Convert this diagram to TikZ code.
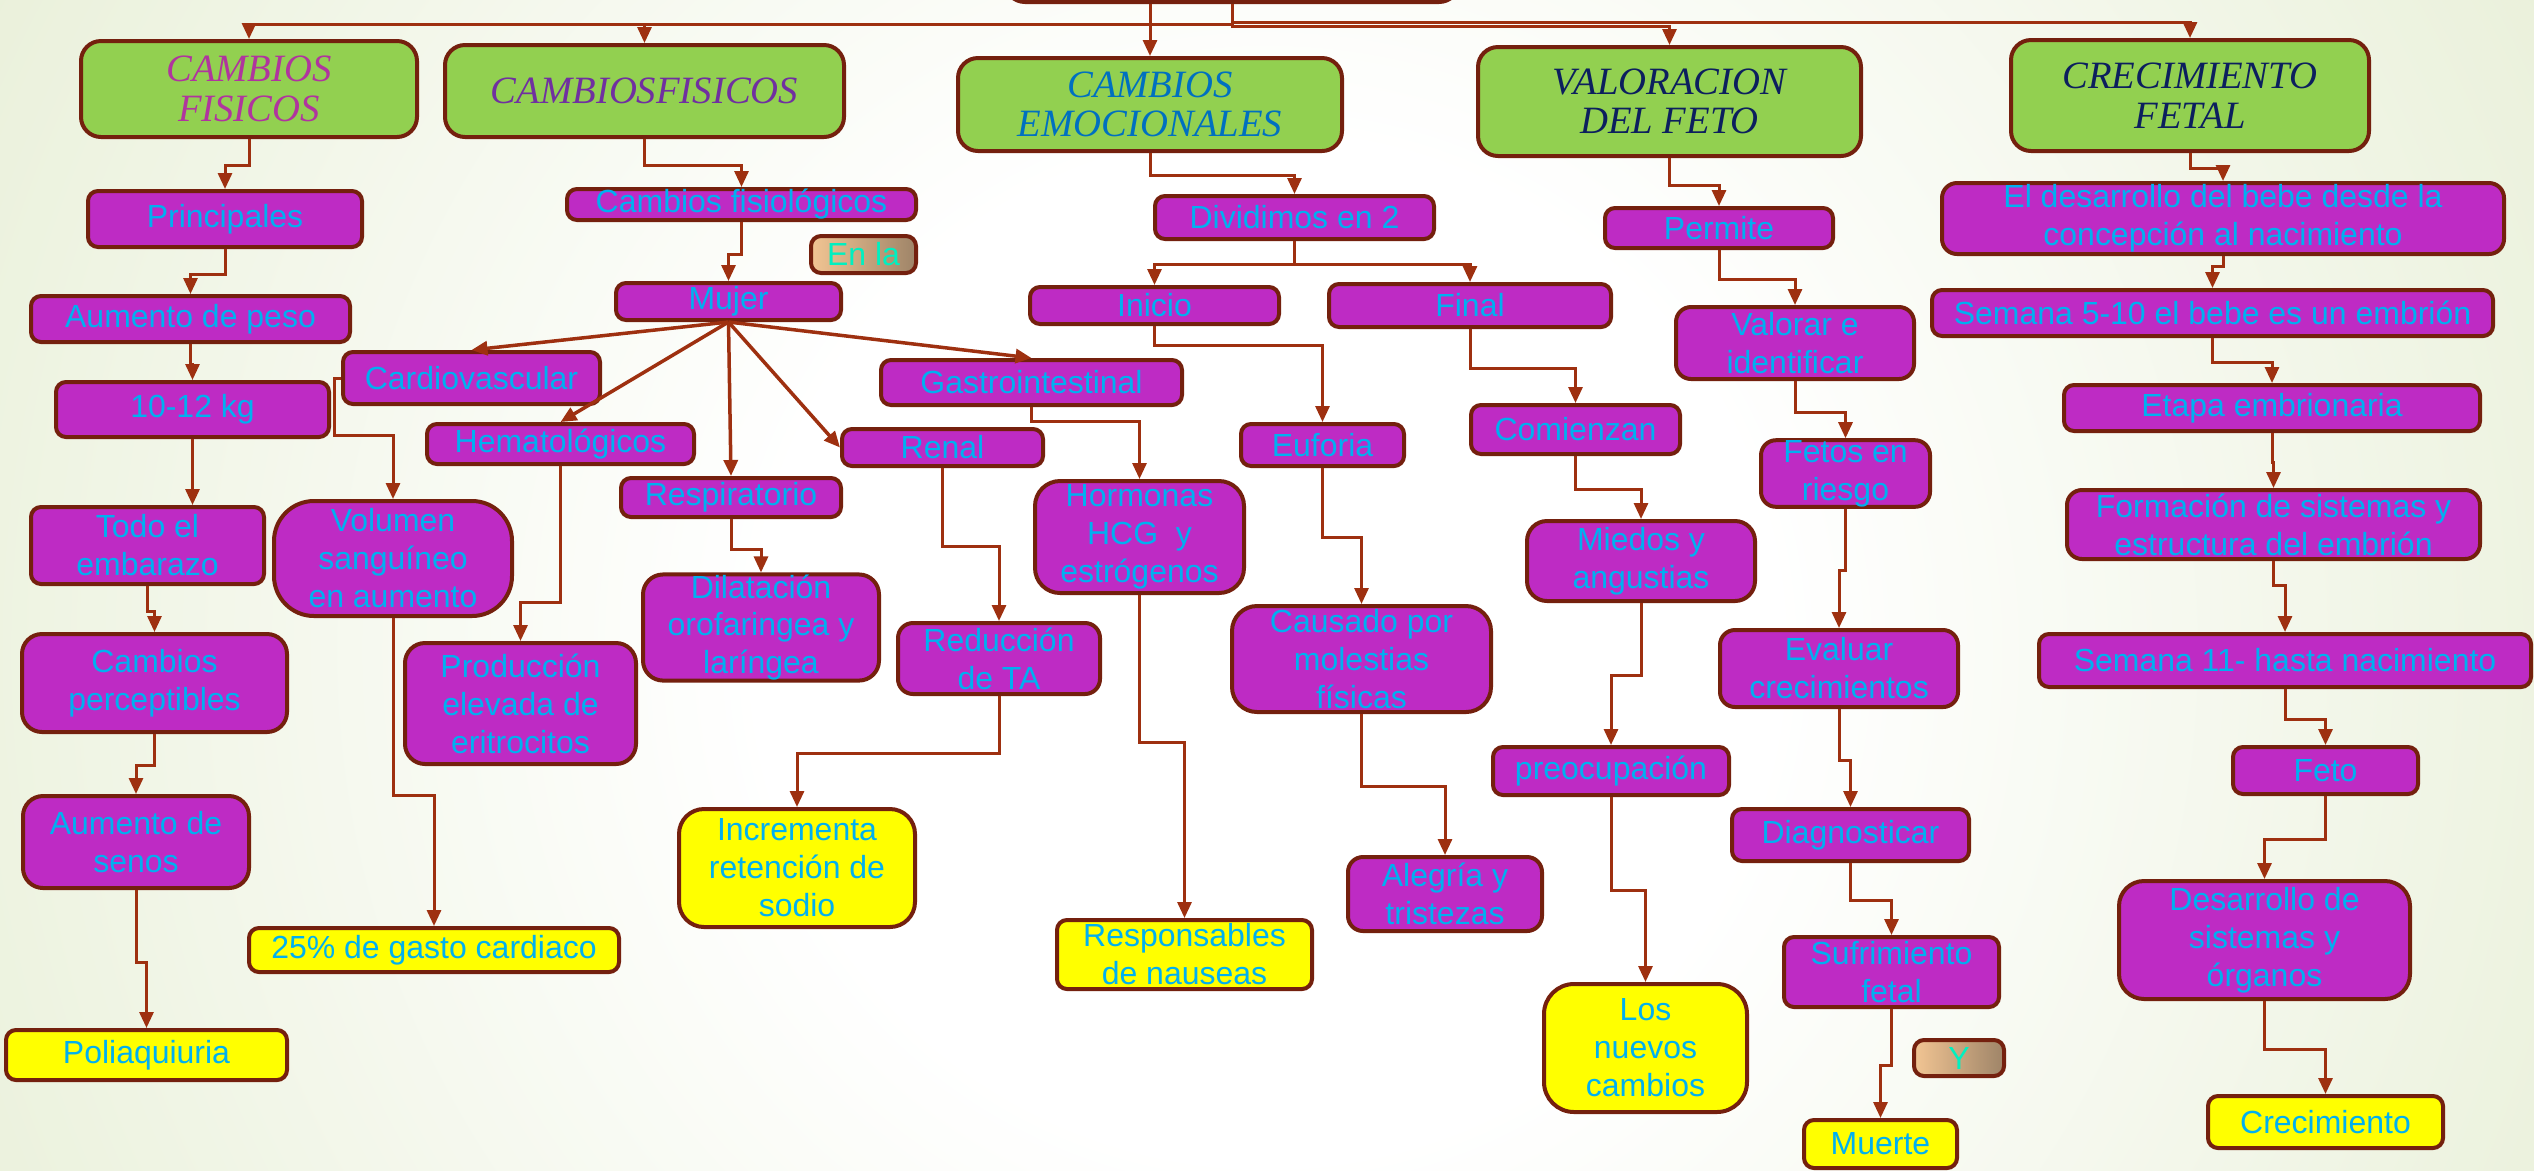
\documentclass[tikz,border=0pt]{standalone}
\usepackage{fontspec}
\setmainfont{Liberation Sans}
\newfontfamily\titserif{Liberation Serif}
\usetikzlibrary{arrows.meta}

\definecolor{brd}{HTML}{74200E}
\definecolor{arrc}{HTML}{9E3010}
\definecolor{hgreen}{HTML}{92D050}
\definecolor{pbfill}{HTML}{BE2BC4}
\definecolor{ylw}{HTML}{FFFF00}
\definecolor{txtblue}{HTML}{00B0F0}
\definecolor{tmag}{HTML}{B0359E}
\definecolor{tpur}{HTML}{7030A0}
\definecolor{tblu}{HTML}{0070C0}
\definecolor{tnavy}{HTML}{0C1F5E}
\definecolor{aqua}{HTML}{00F0C0}
\definecolor{peach}{HTML}{F2C593}
\definecolor{tanosc}{HTML}{9E8468}
\definecolor{bgedge}{HTML}{D6E3B8}
\definecolor{bgedgeb}{HTML}{CFDDAE}

\newcommand{\cajafont}{\fontsize{9.1pt}{10.8pt}\selectfont}
\newcommand{\titfont}{\titserif\itshape\fontsize{11pt}{11.3pt}\selectfont}

\pgfdeclareradialshading{fondo}{\pgfpoint{0bp}{0bp}}{color(0bp)=(white); color(10bp)=(white); color(46bp)=(bgedge); color(72bp)=(bgedgeb)}

\tikzset{
  titulo/.style={draw=brd, line width=0.4mm, fill=hgreen, rounded corners=2mm, align=center, font=\titfont, inner sep=0pt},
  caja/.style={draw=brd, line width=0.4mm, fill=pbfill, rounded corners=1mm, align=center, text=txtblue, font=\cajafont, inner sep=0pt},
  cajaam/.style={caja, fill=ylw},
  enlace/.style={draw=brd, line width=0.4mm, rounded corners=1mm, left color=peach, right color=tanosc, text=aqua, font=\cajafont, inner sep=0pt},
  flecha/.style={draw=arrc, line width=0.3mm, -{Triangle[length=1.6mm,width=1.4mm]}},
}

\begin{document}
\begin{tikzpicture}[x=0.1mm, y=-0.1mm]
\useasboundingbox (0,0) rectangle (2534,1170);
\begin{scope}
  \clip (0,0) rectangle (2534,1170);
  \shade[shading=fondo] (0,-617) rectangle (2534,1917);
\end{scope}

% encabezados
\node[titulo, minimum width=45.4mm, minimum height=6.2mm] (mapa) at (1232,-29) {};
\node[titulo, text=tmag, minimum width=33.6mm, minimum height=9.6mm] (cf1) at (249,89) {CAMBIOS\\FISICOS};
\node[titulo, text=tpur, minimum width=39.9mm, minimum height=9.2mm] (cf2) at (644.5,91) {CAMBIOSFISICOS};
\node[titulo, text=tblu, minimum width=38.4mm, minimum height=9.3mm] (cem) at (1150,104.5) {CAMBIOS\\EMOCIONALES};
\node[titulo, text=tnavy, minimum width=38.3mm, minimum height=10.9mm] (val) at (1669.5,101.5) {VALORACION\\DEL FETO};
\node[titulo, text=tnavy, minimum width=35.8mm, minimum height=11.1mm] (crec) at (2190,95.5) {CRECIMIENTO\\FETAL};

% cambios fisicos
\node[caja, minimum width=27.4mm, minimum height=5.6mm] (prin) at (225,219) {Principales};
\node[caja, minimum width=31.9mm, minimum height=4.6mm] (aum) at (190.5,319) {Aumento de peso};
\node[caja, minimum width=27.3mm, minimum height=5.5mm] (kg) at (192.5,409.5) {10-12 kg};
\node[caja, minimum width=23.3mm, minimum height=7.7mm] (todo) at (147.5,545.5) {Todo el\\embarazo};
\node[caja, minimum width=26.5mm, minimum height=9.8mm, rounded corners=2mm] (camper) at (154.5,683) {Cambios\\perceptibles};
\node[caja, minimum width=22.6mm, minimum height=9.2mm, rounded corners=2mm] (senos) at (136,842) {Aumento de\\senos};
\node[cajaam, minimum width=28.1mm, minimum height=5.0mm] (polia) at (146.5,1055) {Poliaquiuria};

\node[caja, minimum width=34.9mm, minimum height=3.1mm] (cfis) at (741.5,204.5) {Cambios fisiológicos};
\node[enlace, minimum width=10.5mm, minimum height=3.7mm] (enla) at (863.5,254.5) {En la};
\node[caja, minimum width=22.5mm, minimum height=3.7mm] (mujer) at (728.5,301.5) {Mujer};
\node[caja, minimum width=25.7mm, minimum height=5.2mm] (cardio) at (471.5,378) {Cardiovascular};
\node[caja, minimum width=26.7mm, minimum height=4.0mm] (hemato) at (560.5,444) {Hematológicos};
\node[caja, minimum width=22.0mm, minimum height=3.9mm] (resp) at (731,497.5) {Respiratorio};
\node[caja, minimum width=20.1mm, minimum height=3.7mm] (renal) at (942.5,447.5) {Renal};
\node[caja, minimum width=30.1mm, minimum height=4.5mm] (gastro) at (1031.5,382.5) {Gastrointestinal};
\node[caja, minimum width=23.8mm, minimum height=11.5mm, rounded corners=4mm] (vol) at (393,558.5) {Volumen\\sanguíneo\\en aumento};
\node[cajaam, minimum width=37.0mm, minimum height=4.4mm] (gasto) at (434,950) {25\% de gasto cardiaco};
\node[caja, minimum width=23.1mm, minimum height=12.1mm, rounded corners=2mm] (prod) at (520.5,703.5) {Producción\\elevada de\\eritrocitos};
\node[caja, minimum width=23.6mm, minimum height=9.9mm, rounded corners=2mm] (dil) at (761,627.5) {Dilatación\\orofaringea y\\laríngea};
\node[caja, minimum width=20.2mm, minimum height=7.1mm, rounded corners=1.5mm] (red) at (999,658.5) {Reducción\\de TA};
\node[cajaam, minimum width=23.6mm, minimum height=11.8mm, rounded corners=2.5mm] (incr) at (797,868) {Incrementa\\retención de\\sodio};
\node[caja, minimum width=20.9mm, minimum height=11.2mm, rounded corners=2.5mm] (horm) at (1139.5,537) {Hormonas\\HCG\ \ y\\estrógenos};
\node[cajaam, minimum width=25.5mm, minimum height=6.9mm] (respo) at (1184.5,954.5) {Responsables\\de nauseas};

% cambios emocionales
\node[caja, minimum width=27.9mm, minimum height=4.3mm] (div) at (1294.5,217.5) {Dividimos en 2};
\node[caja, minimum width=24.9mm, minimum height=3.7mm] (inicio) at (1154.5,305.5) {Inicio};
\node[caja, minimum width=28.2mm, minimum height=4.3mm] (final) at (1470,305.5) {Final};
\node[caja, minimum width=16.3mm, minimum height=4.2mm] (euf) at (1322.5,445) {Euforia};
\node[caja, minimum width=25.9mm, minimum height=10.6mm, rounded corners=2.5mm] (caus) at (1361.5,659) {Causado por\\molestias\\físicas};
\node[caja, minimum width=19.4mm, minimum height=7.4mm, rounded corners=1.5mm] (aleg) at (1445,894) {Alegría y\\tristezas};
\node[caja, minimum width=20.9mm, minimum height=4.9mm] (comi) at (1575.5,429.5) {Comienzan};
\node[caja, minimum width=22.8mm, minimum height=8.0mm, rounded corners=2mm] (mied) at (1641,561) {Miedos y\\angustias};
\node[caja, minimum width=23.6mm, minimum height=4.8mm] (preo) at (1611,771) {preocupación};
\node[cajaam, minimum width=20.3mm, minimum height=12.8mm, rounded corners=3mm] (nuev) at (1645.5,1048) {Los\\nuevos\\cambios};

% valoracion del feto
\node[caja, minimum width=22.8mm, minimum height=4.0mm] (perm) at (1719,228) {Permite};
\node[caja, minimum width=23.8mm, minimum height=7.2mm, rounded corners=1.5mm] (valo) at (1795,343) {Valorar e\\identificar};
\node[caja, minimum width=16.9mm, minimum height=6.3mm, rounded corners=1.5mm] (fetos) at (1845.5,473.5) {Fetos en\\riesgo};
\node[caja, minimum width=23.8mm, minimum height=7.7mm, rounded corners=1.5mm] (eval) at (1839,668.5) {Evaluar\\crecimientos};
\node[caja, minimum width=23.7mm, minimum height=5.2mm] (diag) at (1850.5,835) {Diagnosticar};
\node[caja, minimum width=21.5mm, minimum height=7.0mm] (sufr) at (1891.5,972) {Sufrimiento\\fetal};
\node[enlace, minimum width=9.0mm, minimum height=3.6mm] (ylet) at (1959,1058) {Y};
\node[cajaam, minimum width=15.3mm, minimum height=4.8mm] (muerte) at (1880.5,1144) {Muerte};

% crecimiento fetal
\node[caja, minimum width=56.2mm, minimum height=7.1mm, rounded corners=1.5mm] (desar) at (2223,218.5) {El desarrollo del bebe desde la\\concepción al nacimiento};
\node[caja, minimum width=56.1mm, minimum height=4.6mm] (sem5) at (2212.5,313) {Semana 5-10 el bebe es un embrión};
\node[caja, minimum width=41.6mm, minimum height=4.6mm] (etapa) at (2272,408) {Etapa embrionaria};
\node[caja, minimum width=41.3mm, minimum height=6.9mm, rounded corners=1.5mm] (form) at (2273.5,524.5) {Formación de sistemas y\\estructura del embrión};
\node[caja, minimum width=49.2mm, minimum height=5.3mm] (sem11) at (2285,660.5) {Semana 11- hasta nacimiento};
\node[caja, minimum width=18.5mm, minimum height=4.7mm] (feto) at (2325.5,770.5) {Feto};
\node[caja, minimum width=29.1mm, minimum height=11.8mm, rounded corners=2.5mm] (dsis) at (2264.5,940) {Desarrollo de\\sistemas y\\órganos};
\node[cajaam, minimum width=23.5mm, minimum height=5.2mm] (crecim) at (2325.5,1122) {Crecimiento};

% conectores
\draw[flecha] (mapa.south) -- ++(0,20) -| (cf1.north);
\draw[flecha] (mapa.south) -- ++(0,20) -| (cf2.north);
\draw[flecha] (mapa.south -| cem.north) -- (cem.north);
\draw[flecha] (mapa.south) -- ++(0,22) -| (val.north);
\draw[flecha] (mapa.south) -- ++(0,18) -| (crec.north);

\draw[flecha] (cf1.south) -- ++(0,26) -| (prin.north);
\draw[flecha] (prin.south) -- ++(0,25) -| (aum.north);
\draw[flecha] (aum.south) -- ++(0,20) -| (kg.north);
\draw[flecha] (kg.south) -- (kg.south |- todo.north);
\draw[flecha] (todo.south) -- ++(0,25) -| (camper.north);
\draw[flecha] (camper.south) -- ++(0,31) -| (senos.north);
\draw[flecha] (senos.south) -- ++(0,72) -| (polia.north);

\draw[flecha] (cf2.south) -- ++(0,26) -| (cfis.north);
\draw[flecha] (cfis.south) -- ++(0,32) -| (mujer.north);
\draw[flecha, line width=0.35mm] (mujer.south) -- (cardio.north);
\draw[flecha, line width=0.35mm] (mujer.south) -- (hemato.north);
\draw[flecha, line width=0.35mm] (mujer.south) -- (resp.north);
\draw[flecha, line width=0.35mm] (mujer.south) -- (renal.west);
\draw[flecha, line width=0.35mm] (mujer.south) -- (gastro.north);
\draw[flecha] (cardio.west) -- ++(-7,0) -- ++(0,57) -| (vol.north);
\draw[flecha] (vol.south) -- ++(0,177) -| (gasto.north);
\draw[flecha] (hemato.south) -- ++(0,136) -| (prod.north);
\draw[flecha] (resp.south) -- ++(0,30) -| (dil.north);
\draw[flecha] (renal.south) -- ++(0,78) -| (red.north);
\draw[flecha] (red.south) -- ++(0,57) -| (incr.north);
\draw[flecha] (gastro.south) -- ++(0,14) -| (horm.north);
\draw[flecha] (horm.south) -- ++(0,147) -| (respo.north);

\draw[flecha] (cem.south) -- ++(0,22) -| (div.north);
\draw[flecha] (div.south) -- ++(0,23) -| (inicio.north);
\draw[flecha] (div.south) -- ++(0,23) -| (final.north);
\draw[flecha] (inicio.south) -- ++(0,19) -| (euf.north);
\draw[flecha] (euf.south) -- ++(0,69) -| (caus.north);
\draw[flecha] (caus.south) -- ++(0,72) -| (aleg.north);
\draw[flecha] (final.south) -- ++(0,39) -| (comi.north);
\draw[flecha] (comi.south) -- ++(0,33) -| (mied.north);
\draw[flecha] (mied.south) -- ++(0,72) -| (preo.north);
\draw[flecha] (preo.south) -- ++(0,93) -| (nuev.north);

\draw[flecha] (val.south) -- ++(0,27) -| (perm.north);
\draw[flecha] (perm.south) -- ++(0,29) -| (valo.north);
\draw[flecha] (valo.south) -- ++(0,31) -| (fetos.north);
\draw[flecha] (fetos.south) -- ++(0,62) -| (eval.north);
\draw[flecha] (eval.south) -- ++(0,51) -| (diag.north);
\draw[flecha] (diag.south) -- ++(0,37) -| (sufr.north);
\draw[flecha] (sufr.south) -- ++(0,56) -| (muerte.north);

\draw[flecha] (crec.south) -- ++(0,15) -| (desar.north);
\draw[flecha] (desar.south) -- ++(0,10) -| (sem5.north);
\draw[flecha] (sem5.south) -- ++(0,24) -| (etapa.north);
\draw[flecha] (etapa.south) -- ++(0,29) -| (form.north);
\draw[flecha] (form.south) -- ++(0,24) -| (sem11.north);
\draw[flecha] (sem11.south) -- ++(0,30) -| (feto.north);
\draw[flecha] (feto.south) -- ++(0,43) -| (dsis.north);
\draw[flecha] (dsis.south) -- ++(0,48) -| (crecim.north);
\end{tikzpicture}
\end{document}
